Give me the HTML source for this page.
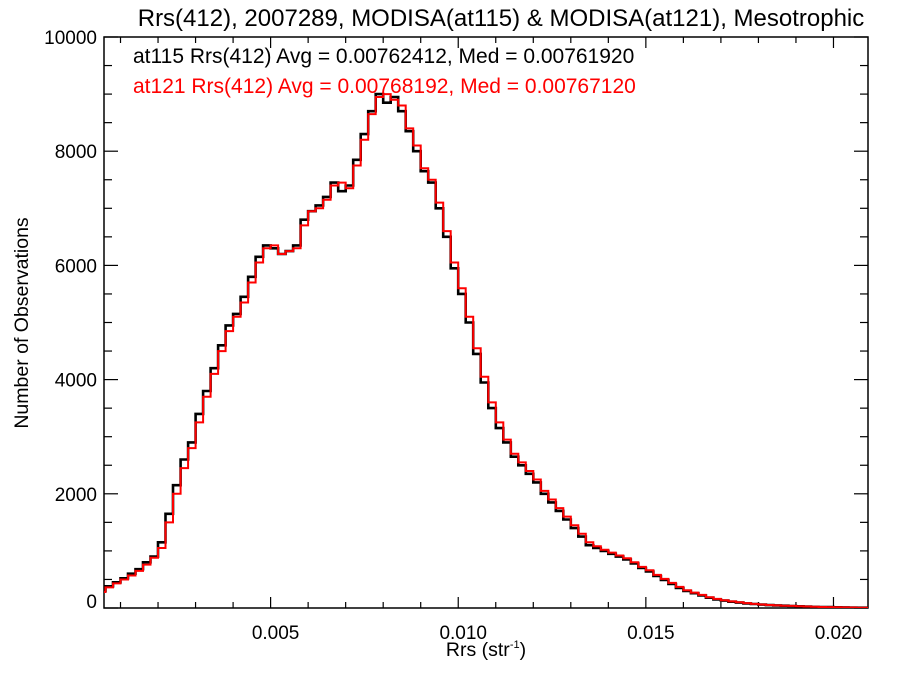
<!DOCTYPE html>
<html><head><meta charset="utf-8"><style>
body{margin:0;background:#fff;}
svg{display:block;font-family:"Liberation Sans",Arial,sans-serif;}
</style></head><body>
<svg id="chart" width="900" height="675" viewBox="0 0 900 675" xmlns="http://www.w3.org/2000/svg">
<rect width="900" height="675" fill="#fff"/>
<text x="501" y="26" font-size="24" text-anchor="middle" fill="#000">Rrs(412), 2007289, MODISA(at115) &amp; MODISA(at121), Mesotrophic</text>
<g id="axes"></g>
<g id="series"></g>
<text x="133" y="63" font-size="21" fill="#000">at115 Rrs(412) Avg = 0.00762412, Med = 0.00761920</text>
<text x="133" y="93" font-size="21" fill="#ff0000">at121 Rrs(412) Avg = 0.00768192, Med = 0.00767120</text>
<text transform="translate(28,323) rotate(-90)" font-size="19.5" text-anchor="middle" fill="#000">Number of Observations</text>
<text x="486" y="656" font-size="19.5" text-anchor="middle" fill="#000">Rrs (str<tspan font-size="11" dy="-8">-1</tspan><tspan dy="8">)</tspan></text>
</svg>
<script>
const binStart = 0.0004;
const binWidth = 0.0002;
const at115Counts = [300,380,450,520,600,680,800,900,1150,1650,2150,2600,2900,3400,3800,4200,4600,4950,5150,5450,5800,6150,6350,6300,6200,6250,6350,6800,6950,7050,7200,7450,7300,7400,7850,8300,8700,9000,8850,8950,8700,8350,8000,7650,7450,7000,6500,5950,5500,5000,4450,3950,3500,3150,2900,2650,2500,2350,2200,2000,1850,1700,1550,1400,1250,1100,1050,1000,950,900,850,780,700,640,560,490,420,350,300,260,220,180,150,130,110,95,80,70,60,50,45,40,35,30,25,20,18,15,12,10,8,6,5];
const at121Counts = [280,360,430,500,570,650,760,880,1050,1500,2000,2450,2800,3250,3700,4100,4500,4850,5100,5350,5700,6050,6300,6350,6200,6250,6300,6700,6950,7000,7150,7400,7450,7350,7750,8200,8650,8950,9000,8900,8800,8400,8100,7700,7500,7100,6600,6050,5600,5100,4550,4050,3600,3250,2950,2700,2550,2400,2250,2050,1900,1750,1600,1450,1300,1150,1080,1020,970,920,870,800,720,660,580,510,440,370,310,270,230,190,160,135,115,100,85,72,62,52,46,41,36,31,26,21,18,15,12,10,8,6,5];
const xTicks = [0.005,0.010,0.015,0.020];
const xTickLabels = ["0.005","0.010","0.015","0.020"];
const yTicks = [0,2000,4000,6000,8000,10000];
const yTickLabels = ["0","2000","4000","6000","8000","10000"];

const L=104,R=868,T=37,B=608, X0=0.00056, X1=0.02092, Y0=0, Y1=10000;
const xs=v=>L+(v-X0)/(X1-X0)*(R-L);
const ys=v=>B-(v-Y0)/(Y1-Y0)*(B-T);
const NS="http://www.w3.org/2000/svg";
function mk(tag,attrs,parent){const e=document.createElementNS(NS,tag);for(const k in attrs)e.setAttribute(k,attrs[k]);parent.appendChild(e);return e;}
const axes=document.getElementById('axes');
const frame=mk('rect',{x:L,y:T,width:R-L,height:B-T,fill:'none',stroke:'#000','stroke-width':1.5},axes);


for(let i=1;i<=21;i++){const v=i*0.001;if(v<X0||v>X1)continue;const x=xs(v);const major=(i%5===0);const len=major?11:6;
 const t1=mk('line',{x1:x,x2:x,y1:B,y2:B-len,stroke:'#000','stroke-width':1.2},axes);
 
 
 const t2=mk('line',{x1:x,x2:x,y1:T,y2:T+len,stroke:'#000','stroke-width':1.2},axes);
 
 }
xTicks.forEach((v,i)=>{const t=mk('text',{x:xs(v)+5,y:B+31,'font-size':19,'text-anchor':'middle',fill:'#000'},axes);t.textContent=xTickLabels[i];
 
 });
for(let v=0;v<=10000;v+=500){const y=ys(v);const len=(v%2000===0)?14:8;
 const t1=mk('line',{x1:L,x2:L+len,y1:y,y2:y,stroke:'#000','stroke-width':1.2},axes);
 
 
 const t2=mk('line',{x1:R,x2:R-len,y1:y,y2:y,stroke:'#000','stroke-width':1.2},axes);
 
 }
yTicks.forEach((v,i)=>{const y=ys(v);const t=mk('text',{x:L-7,y:(v===0?y:y+7),'font-size':19,'text-anchor':'end',fill:'#000'},axes);t.textContent=yTickLabels[i];
 
 });
const series=document.getElementById('series');
const defs=mk('defs',{},series);const cp=mk('clipPath',{id:'clip'},defs);mk('rect',{x:L,y:T,width:R-L,height:B-T},cp);
function step(counts){let d='';counts.forEach((c,i)=>{const a=xs(binStart+i*binWidth),b=xs(binStart+(i+1)*binWidth),y=ys(c);d+=(i===0?'M':'L')+a.toFixed(1)+','+y.toFixed(1)+'L'+b.toFixed(1)+','+y.toFixed(1);});return d;}
const p1=mk('path',{d:step(at115Counts),fill:'none',stroke:'#000','stroke-width':2.6,'clip-path':'url(#clip)'},series);


const p2=mk('path',{d:step(at121Counts),fill:'none',stroke:'#ff0000','stroke-width':2,'clip-path':'url(#clip)'},series);


</script>
</body></html>
